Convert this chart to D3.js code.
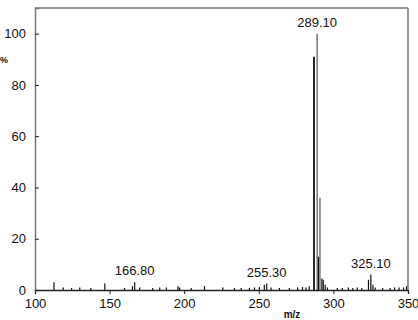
<!DOCTYPE html>
<html><head><meta charset="utf-8">
<script src="https://cdn.jsdelivr.net/npm/d3@7"></script>
<style>
html,body{margin:0;padding:0;background:#fff;}
svg{display:block;font-family:"Liberation Sans",Arial,sans-serif;}
</style></head>
<body><svg id="c" width="418" height="320"></svg>
<script>
// m/z values and relative intensities (%)
const mz = [112.7,118.9,124.5,130.0,137.4,146.8,160.0,165.3,166.8,170.2,178.9,183.6,188.0,195.8,196.9,204.7,213.6,
  225.9,233.7,238.2,243.7,247.1,250.4,253.7,255.3,258.2,263.8,270.5,276.0,279.3,281.6,283.8,
  287.0,289.1,290.0,291.0,292.3,293.2,294.5,296.0,302.6,306.0,310.0,313.0,316.0,319.0,
  323.5,325.1,326.5,328.0,333.0,338.0,341.0,344.0,347.0,349.0];
const intensity = [3.0,1.0,0.8,1.0,0.8,2.5,0.8,1.5,3.0,1.0,0.8,1.0,1.0,1.5,1.0,0.8,1.5,
  1.0,0.8,0.8,0.8,1.0,1.2,2.0,2.5,1.0,0.8,0.8,1.0,1.2,1.0,1.5,
  91.0,100.0,13.0,36.0,4.5,4.0,2.0,1.0,0.8,0.8,1.0,0.8,1.0,0.8,
  4.0,6.0,2.0,1.0,0.8,0.8,1.0,1.0,1.0,1.5];
const peakLabels = ["166.80","255.30","289.10","325.10"];
const xTicks = [100,150,200,250,300,350];
const yTicks = [0,20,40,60,80,100];
const xTitle = "m/z";
const yTitle = "%";

const svg = d3.select("#c");
const L = 35, R = 408, T = 8, B = 290;
const x = d3.scaleLinear().domain([100,350]).range([L,R]);
const y = d3.scaleLinear().domain([0,110]).range([B,T]);
const axisCol = "#777";

// bars
svg.append("g").selectAll("line").data(mz).join("line")
  .attr("x1", d=>x(d)).attr("x2", d=>x(d))
  .attr("y1", y(0)).attr("y2", (d,i)=>y(intensity[i]))
  .attr("stroke", (d,i)=> intensity[i] > 30 && d > 288 ? "#555" : "#111")
  .attr("stroke-width", (d,i)=> intensity[i] > 80 && d < 288 ? 1.8 : 1.2);

// frame top/right
svg.append("line").attr("x1",L).attr("x2",R).attr("y1",T).attr("y2",T).attr("stroke",axisCol).attr("stroke-width",1.5);
svg.append("line").attr("x1",R).attr("x2",R).attr("y1",T).attr("y2",B).attr("stroke",axisCol).attr("stroke-width",1.5);

// x axis
const gx = svg.append("g").attr("transform",`translate(0,${B})`)
  .call(d3.axisBottom(x).tickValues(xTicks).tickSize(4).tickPadding(5).tickFormat(d3.format("d")));
gx.select(".domain").attr("stroke","#222").attr("stroke-width",1.3);
gx.selectAll(".tick line").attr("stroke","#222");
gx.selectAll("text").attr("font-size",13).attr("fill","#111").attr("font-family","Liberation Sans, Arial, sans-serif");

// y axis with inward ticks
const gy = svg.append("g").attr("transform",`translate(${L},0)`)
  .call(d3.axisLeft(y).tickValues(yTicks).tickSize(-4).tickPadding(9).tickFormat(d3.format("d")));
gy.select(".domain").attr("stroke",axisCol).attr("stroke-width",1.5);
gy.selectAll(".tick line").attr("stroke","#222");
gy.selectAll("text").attr("font-size",13).attr("fill","#111").attr("font-family","Liberation Sans, Arial, sans-serif");

// peak labels
svg.append("g").selectAll("text").data(peakLabels).join("text")
  .attr("x", d=>x(+d))
  .attr("y", d=>{ const i = mz.indexOf(+d); return y(intensity[i]) - 7; })
  .attr("text-anchor","middle").attr("font-size",13).attr("fill","#111")
  .text(d=>d);

// titles
svg.append("text").attr("x",292).attr("y",318).attr("text-anchor","middle")
  .attr("font-size",10).attr("font-weight","bold").attr("fill","#111").text(xTitle);
svg.append("text").attr("x",0).attr("y",63).attr("text-anchor","start")
  .attr("font-size",9).attr("font-weight","bold").attr("fill","#111").text(yTitle);
</script></body></html>
